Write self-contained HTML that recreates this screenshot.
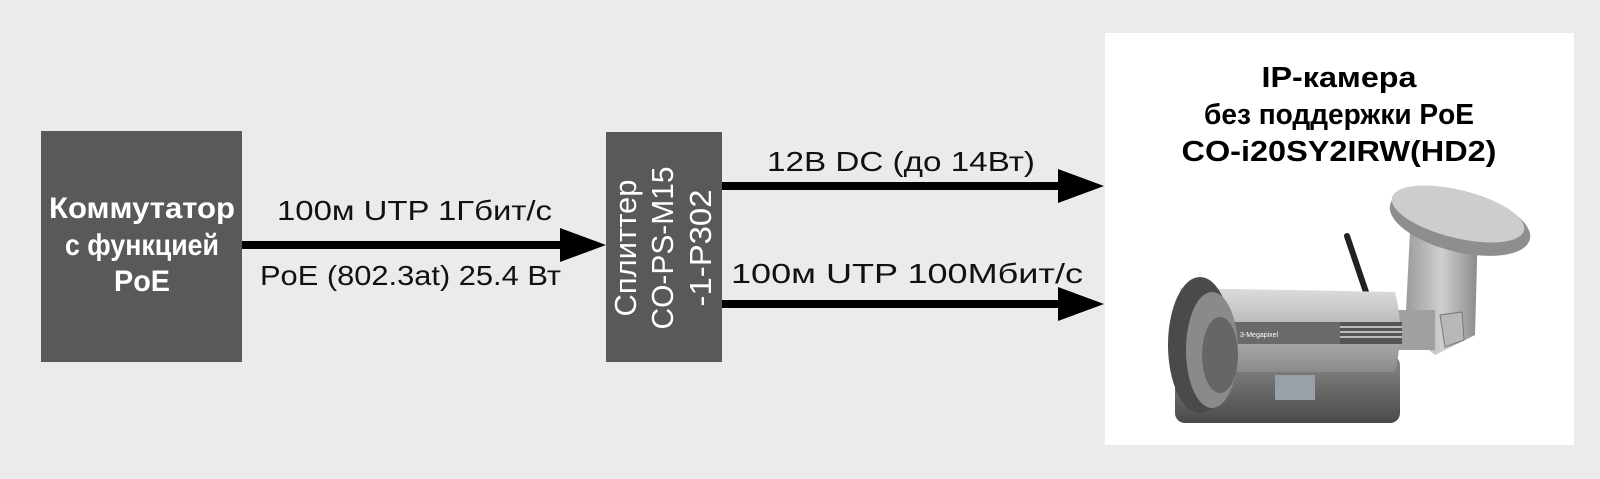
<!DOCTYPE html>
<html><head><meta charset="utf-8"><style>
html,body{margin:0;padding:0;background:#ebebeb;}
svg{display:block;}
</style></head><body>
<svg width="1600" height="479" viewBox="0 0 1600 479" xmlns="http://www.w3.org/2000/svg" font-family="Liberation Sans, sans-serif">
<defs>
<linearGradient id="silver" x1="0" y1="0" x2="0" y2="1">
<stop offset="0" stop-color="#dcdcdc"/><stop offset="0.4" stop-color="#bdbdbd"/><stop offset="1" stop-color="#8a8a8a"/></linearGradient>
<linearGradient id="arm" x1="0" y1="0" x2="1" y2="0">
<stop offset="0" stop-color="#9a9a9a"/><stop offset="0.5" stop-color="#cfcfcf"/><stop offset="1" stop-color="#8a8a8a"/></linearGradient>
<linearGradient id="dark" x1="0" y1="0" x2="0" y2="1">
<stop offset="0" stop-color="#8a8a8a"/><stop offset="1" stop-color="#4a4a4a"/></linearGradient>
</defs>
<rect width="1600" height="479" fill="#ebebeb"/>
<rect x="41" y="131" width="201" height="231" fill="#595959"/>
<g fill="#fff" font-weight="bold" font-size="30" text-anchor="middle">
<text x="142" y="218" textLength="186" lengthAdjust="spacingAndGlyphs">Коммутатор</text>
<text x="142" y="255" textLength="154" lengthAdjust="spacingAndGlyphs">с функцией</text>
<text x="142" y="291" textLength="56" lengthAdjust="spacingAndGlyphs">PoE</text>
</g>
<rect x="242" y="241" width="322" height="8" fill="#000"/>
<polygon points="560,228 606,245 560,262" fill="#000"/>
<g font-size="28" fill="#111">
<text x="277" y="220" textLength="275" lengthAdjust="spacingAndGlyphs">100м UTP 1Гбит/с</text>
<text x="260" y="285" textLength="301" lengthAdjust="spacingAndGlyphs">PoE (802.3at) 25.4 Вт</text>
</g>
<rect x="606" y="132" width="116" height="230" fill="#595959"/>
<g fill="#fff" font-size="31" text-anchor="middle">
<text transform="translate(636,248) rotate(-90)" textLength="137" lengthAdjust="spacingAndGlyphs">Сплиттер</text>
<text transform="translate(673,248) rotate(-90)" textLength="163" lengthAdjust="spacingAndGlyphs">CO-PS-M15</text>
<text transform="translate(711,248) rotate(-90)" textLength="117" lengthAdjust="spacingAndGlyphs">-1-P302</text>
</g>
<rect x="722" y="182" width="340" height="8" fill="#000"/>
<polygon points="1058,169 1104,186 1058,203" fill="#000"/>
<rect x="722" y="300" width="340" height="8" fill="#000"/>
<polygon points="1058,287 1104,304 1058,321" fill="#000"/>
<g font-size="28" fill="#111">
<text x="767" y="171" textLength="268" lengthAdjust="spacingAndGlyphs">12В DC (до 14Вт)</text>
<text x="731" y="283" textLength="352" lengthAdjust="spacingAndGlyphs">100м UTP 100Мбит/с</text>
</g>
<rect x="1105" y="33" width="469" height="412" fill="#fff"/>
<g font-size="29" font-weight="bold" text-anchor="middle" fill="#000">
<text x="1339" y="87" textLength="155" lengthAdjust="spacingAndGlyphs">IP-камера</text>
<text x="1339" y="124" textLength="270" lengthAdjust="spacingAndGlyphs">без поддержки PoE</text>
<text x="1339" y="161" textLength="315" lengthAdjust="spacingAndGlyphs">CO-i20SY2IRW(HD2)</text>
</g>
<g>
<line x1="1347" y1="236" x2="1366" y2="292" stroke="#222" stroke-width="6" stroke-linecap="round"/>
<polygon points="1410,232 1478,225 1475,335 1435,355 1405,330" fill="url(#arm)"/>
<ellipse cx="1460" cy="222" rx="72" ry="30" fill="#8e8e8e" transform="rotate(14 1460 222)"/>
<ellipse cx="1458" cy="214" rx="68" ry="24" fill="#cdcdcd" transform="rotate(14 1458 214)"/>
<rect x="1390" y="310" width="45" height="40" fill="#a0a0a0"/>
<polygon points="1440,315 1462,312 1464,340 1445,347" fill="#b8b8b8" stroke="#777"/>
<rect x="1175" y="355" width="225" height="68" rx="10" fill="url(#dark)"/>
<path d="M1180,288 L1395,292 Q1405,330 1395,372 L1180,372 Z" fill="url(#silver)"/>
<rect x="1340" y="322" width="62" height="22" fill="#555"/>
<g stroke="#ddd" stroke-width="1.5"><line x1="1340" y1="327" x2="1402" y2="327"/><line x1="1340" y1="332" x2="1402" y2="332"/><line x1="1340" y1="337" x2="1402" y2="337"/></g>
<rect x="1215" y="322" width="125" height="22" fill="#6a6a6a"/>
<text x="1240" y="337" font-size="7" fill="#fff">3-Megapixel</text>
<ellipse cx="1200" cy="345" rx="32" ry="68" fill="#4a4a4a"/>
<ellipse cx="1212" cy="350" rx="26" ry="58" fill="#8a8a8a"/>
<ellipse cx="1220" cy="355" rx="18" ry="38" fill="#666"/>
<rect x="1275" y="375" width="40" height="25" fill="#9aa0a8"/>
</g>
</svg>
</body></html>
